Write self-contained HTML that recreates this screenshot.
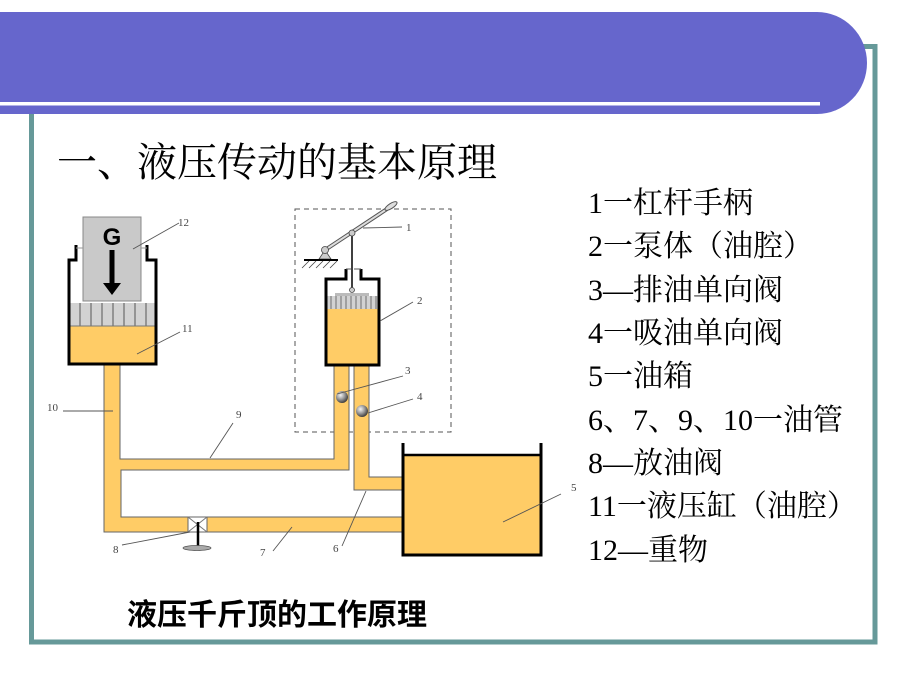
<!DOCTYPE html>
<html><head><meta charset="utf-8">
<style>
html,body{margin:0;padding:0;background:#fff;}
svg{display:block;}
.lbl{font-family:"Liberation Serif",serif;font-size:11px;fill:#444;}
.ld{stroke:#555;stroke-width:0.9;fill:none;}
.lst{font-family:"Liberation Serif","Noto Serif CJK SC",serif;font-size:30px;fill:#000;}
</style></head>
<body>
<svg width="900" height="675" viewBox="0 0 900 675" xmlns="http://www.w3.org/2000/svg">
<defs>
<radialGradient id="ball" cx="0.38" cy="0.35" r="0.7">
<stop offset="0" stop-color="#f4f4f4"/><stop offset="0.5" stop-color="#999"/><stop offset="1" stop-color="#333"/>
</radialGradient>
</defs>
<rect width="900" height="675" fill="#fff"/>
<!-- frame -->
<rect x="31.5" y="46.5" width="843.5" height="595.5" fill="none" stroke="#669999" stroke-width="5"/>
<!-- header band -->
<path d="M0,12 H817 A50,51 0 0 1 817,114 H0 Z" fill="#6666CC"/>
<rect x="0" y="102" width="820" height="3.5" fill="#fff"/>

<!-- title -->
<text x="57" y="176" font-family="'Liberation Serif','Noto Serif CJK SC',serif" font-size="40" fill="#000">一、液压传动的基本原理</text>

<!-- list -->
<text class="lst" x="588" y="213">1一杠杆手柄</text>
<text class="lst" x="588" y="256">2一泵体（油腔）</text>
<text class="lst" x="588" y="300">3—排油单向阀</text>
<text class="lst" x="588" y="343">4一吸油单向阀</text>
<text class="lst" x="588" y="386">5一油箱</text>
<text class="lst" x="588" y="430">6、7、9、10一油管</text>
<text class="lst" x="588" y="473">8—放油阀</text>
<text class="lst" x="588" y="516">11一液压缸（油腔）</text>
<text class="lst" x="588" y="560">12—重物</text>

<!-- caption -->
<text x="127" y="625" font-family="'Liberation Sans','Noto Sans CJK SC',sans-serif" font-size="30" font-weight="bold" fill="#000">液压千斤顶的工作原理</text>

<!-- dashed box -->
<rect x="295" y="209" width="156" height="223" fill="none" stroke="#555" stroke-width="1" stroke-dasharray="5,4"/>

<!-- pipes region A -->
<path d="M104,364 L120,364 L120,459 L334,459 L334,365 L349,365 L349,470 L121,470 L121,517 L403,517 L403,532 L104,532 Z" fill="#FFCC66" stroke="#666" stroke-width="1"/>
<!-- pipes region B -->
<path d="M354,365 L369,365 L369,477 L403,477 L403,490 L354,490 Z" fill="#FFCC66" stroke="#666" stroke-width="1"/>

<!-- left cylinder -->
<rect x="69" y="326" width="87" height="38" fill="#FFCC66"/>
<rect x="69" y="303" width="87" height="23" fill="#d2d2d2"/>
<g stroke="#555" stroke-width="1">
<line x1="80" y1="303" x2="80" y2="326"/><line x1="91" y1="303" x2="91" y2="326"/>
<line x1="102" y1="303" x2="102" y2="326"/><line x1="113" y1="303" x2="113" y2="326"/>
<line x1="124" y1="303" x2="124" y2="326"/><line x1="135" y1="303" x2="135" y2="326"/>
<line x1="146" y1="303" x2="146" y2="326"/>
</g>
<line x1="69" y1="326" x2="156" y2="326" stroke="#777" stroke-width="1"/>
<rect x="83" y="217" width="58" height="84" fill="#c9c9c9" stroke="#888" stroke-width="1"/>
<text x="112" y="245" text-anchor="middle" font-family="'Liberation Sans',sans-serif" font-size="24" font-weight="bold" fill="#000">G</text>
<rect x="109.5" y="250" width="5" height="34" fill="#000"/>
<path d="M103,283 L121,283 L112,295 Z" fill="#000"/>
<path d="M76,245 L76,260 L69,260 L69,364 L156,364 L156,260 L147,260 L147,245" fill="none" stroke="#000" stroke-width="3"/>
<line x1="76" y1="248" x2="83" y2="248" stroke="#999" stroke-width="1"/>
<line x1="141" y1="248" x2="147" y2="248" stroke="#999" stroke-width="1"/>

<!-- pump cylinder -->
<rect x="326" y="309" width="53" height="56" fill="#FFCC66"/>
<rect x="326" y="296" width="53" height="13" fill="#d2d2d2"/>
<rect x="335" y="293" width="34" height="3" fill="#bbb"/>
<g stroke="#555" stroke-width="0.8">
<line x1="331" y1="296" x2="331" y2="309"/><line x1="336" y1="296" x2="336" y2="309"/>
<line x1="341" y1="296" x2="341" y2="309"/><line x1="346" y1="296" x2="346" y2="309"/>
<line x1="351" y1="296" x2="351" y2="309"/><line x1="356" y1="296" x2="356" y2="309"/>
<line x1="361" y1="296" x2="361" y2="309"/><line x1="366" y1="296" x2="366" y2="309"/>
<line x1="371" y1="296" x2="371" y2="309"/><line x1="376" y1="296" x2="376" y2="309"/>
</g>
<line x1="352" y1="291" x2="352" y2="234" stroke="#000" stroke-width="1.5"/>
<circle cx="352" cy="290" r="2.5" fill="#ccc" stroke="#444" stroke-width="0.8"/>
<path d="M346,269 L346,279 L326,279 L326,365 L379,365 L379,279 L361,279 L361,269" fill="none" stroke="#000" stroke-width="3"/>
<line x1="346" y1="269" x2="351" y2="269" stroke="#555" stroke-width="1"/>
<line x1="354" y1="269" x2="361" y2="269" stroke="#555" stroke-width="1"/>

<!-- lever -->
<line x1="325" y1="250" x2="390" y2="207" stroke="#555" stroke-width="4" stroke-linecap="round"/>
<line x1="325" y1="250" x2="390" y2="207" stroke="#ddd" stroke-width="2" stroke-linecap="round"/>
<ellipse cx="391" cy="206" rx="7" ry="2.5" transform="rotate(-33 391 206)" fill="#ddd" stroke="#555" stroke-width="1"/>
<circle cx="352" cy="233" r="3" fill="#ccc" stroke="#444" stroke-width="0.8"/>
<path d="M325,250 L319,259 L331,259 Z" fill="#ccc" stroke="#444" stroke-width="0.8"/>
<circle cx="325" cy="250" r="3.5" fill="#ccc" stroke="#444" stroke-width="0.8"/>
<line x1="304" y1="260" x2="338" y2="260" stroke="#000" stroke-width="2"/>
<g stroke="#444" stroke-width="0.8">
<line x1="309" y1="261" x2="302" y2="268"/><line x1="316" y1="261" x2="309" y2="268"/>
<line x1="323" y1="261" x2="316" y2="268"/><line x1="330" y1="261" x2="323" y2="268"/>
<line x1="337" y1="261" x2="330" y2="268"/>
</g>

<!-- balls -->
<circle cx="342" cy="397" r="6" fill="url(#ball)"/>
<circle cx="362" cy="411" r="6" fill="url(#ball)"/>

<!-- tank -->
<rect x="403" y="455" width="138" height="100" fill="#FFCC66"/>
<line x1="403" y1="455" x2="541" y2="455" stroke="#000" stroke-width="2.5"/>
<path d="M403,443 L403,555 L541,555 L541,443" fill="none" stroke="#000" stroke-width="3"/>

<!-- valve 8 -->
<rect x="188" y="517" width="19" height="15" fill="#fff" stroke="#666" stroke-width="1"/>
<line x1="188" y1="517" x2="207" y2="532" stroke="#777" stroke-width="1"/>
<line x1="207" y1="517" x2="188" y2="532" stroke="#777" stroke-width="1"/>
<line x1="198" y1="522" x2="198" y2="547" stroke="#000" stroke-width="2.5"/>
<ellipse cx="197" cy="548" rx="14" ry="2.5" fill="#aaa" stroke="#555" stroke-width="0.8"/>

<!-- leaders -->
<line class="ld" x1="179" y1="223" x2="133" y2="249"/>
<line class="ld" x1="180" y1="332" x2="137" y2="354"/>
<line class="ld" x1="63" y1="411" x2="113" y2="411"/>
<line class="ld" x1="233" y1="423" x2="210" y2="458"/>
<line class="ld" x1="122" y1="545" x2="190" y2="532"/>
<line class="ld" x1="273" y1="551" x2="292" y2="527"/>
<line class="ld" x1="342" y1="546" x2="366" y2="491"/>
<line class="ld" x1="561" y1="494" x2="503" y2="522"/>
<line class="ld" x1="402" y1="227" x2="363" y2="228"/>
<line class="ld" x1="413" y1="302" x2="380" y2="321"/>
<line class="ld" x1="403" y1="376" x2="337" y2="394"/>
<line class="ld" x1="413" y1="399" x2="368" y2="413"/>

<!-- labels -->
<text class="lbl" x="178" y="226">12</text>
<text class="lbl" x="182" y="332">11</text>
<text class="lbl" x="47" y="411">10</text>
<text class="lbl" x="236" y="418">9</text>
<text class="lbl" x="113" y="553">8</text>
<text class="lbl" x="260" y="556">7</text>
<text class="lbl" x="333" y="552">6</text>
<text class="lbl" x="571" y="491">5</text>
<text class="lbl" x="406" y="231">1</text>
<text class="lbl" x="417" y="304">2</text>
<text class="lbl" x="405" y="374">3</text>
<text class="lbl" x="417" y="400">4</text>
</svg>
</body></html>
